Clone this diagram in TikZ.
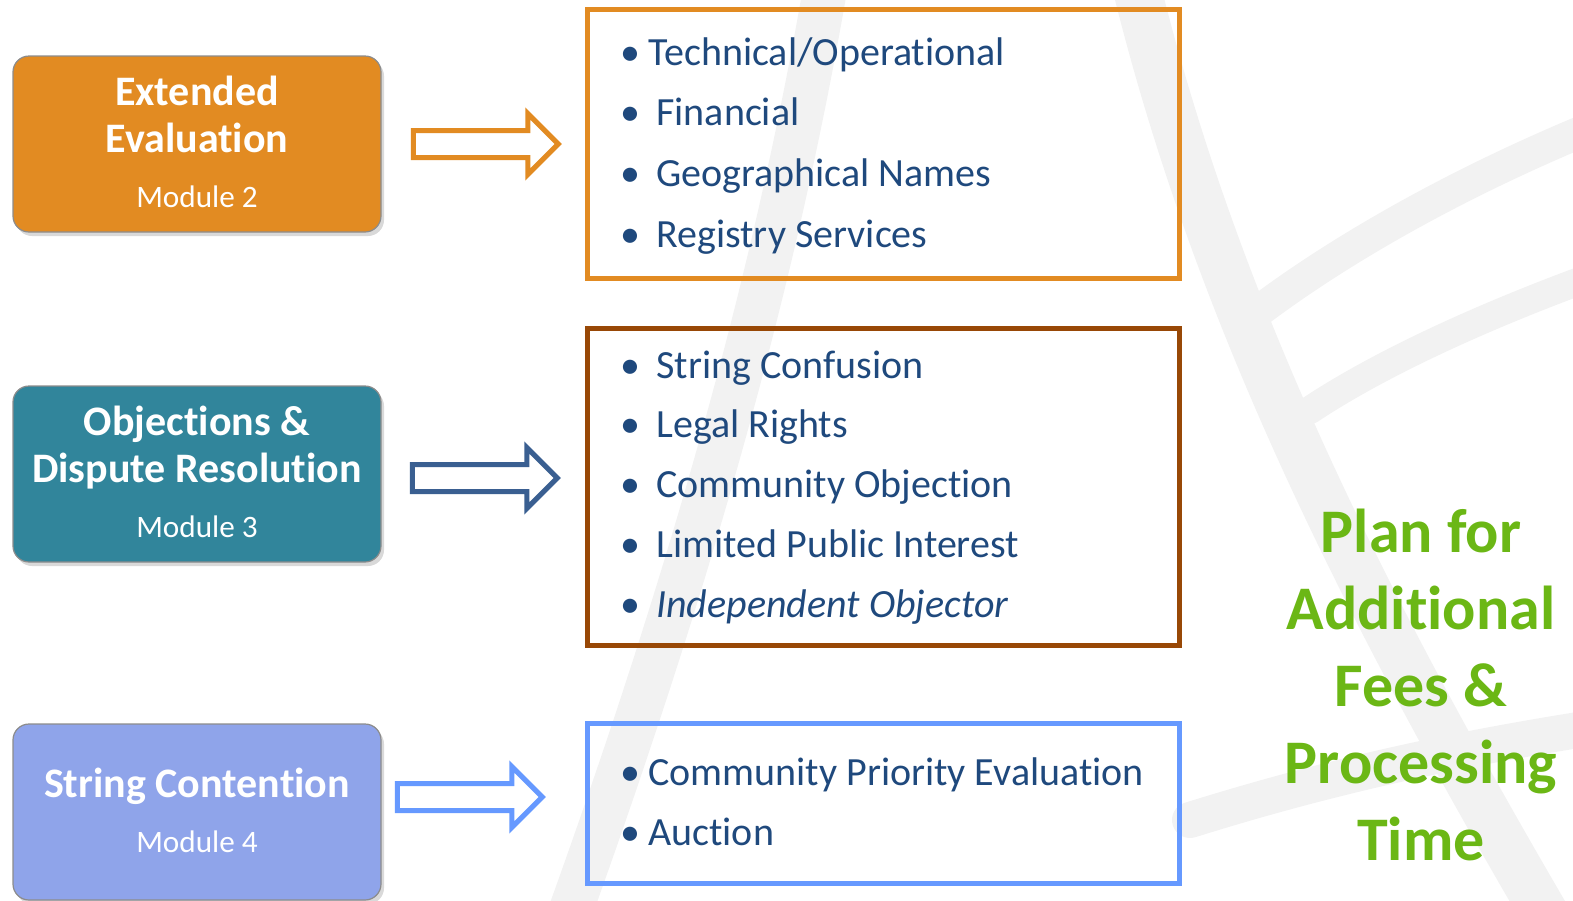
\documentclass[tikz,border=0pt]{standalone}
\usepackage{fontspec}
\setmainfont{Carlito}[Ligatures=NoCommon]
\usetikzlibrary{shapes.arrows,shadows,positioning}

\definecolor{evalorange}{RGB}{226,139,34}
\definecolor{objteal}{RGB}{49,133,155}
\definecolor{contlilac}{RGB}{143,164,234}
\definecolor{objbrown}{RGB}{152,72,6}
\definecolor{contblue}{RGB}{102,153,255}
\definecolor{arrowblue}{RGB}{58,95,145}
\definecolor{itemblue}{RGB}{31,73,125}
\definecolor{plangreen}{RGB}{107,183,21}

\tikzset{
  module/.style={draw=black!45, line width=0.6pt, rounded corners=8pt,
    minimum width=184pt, minimum height=88pt,
    drop shadow={shadow xshift=1.5pt, shadow yshift=-2pt, opacity=0.3}},
  modtitle/.style={anchor=base, inner sep=0pt, text=white,
    font=\bfseries\fontsize{21}{25}\selectfont},
  modsub/.style={anchor=base, inner sep=0pt, text=white,
    font=\fontsize{15.6}{18}\selectfont},
  hollow/.style={single arrow, draw, line width=2.5pt, fill=white,
    inner sep=5.5pt, single arrow head extend=8.5pt,
    single arrow tip angle=90, minimum height=72.5pt},
  listbox/.style={draw, line width=2.5pt, minimum width=296pt, inner sep=0pt},
  item/.style={anchor=base west, inner sep=0pt, text=itemblue,
    font=\fontsize{20}{24}\selectfont},
  plan/.style={anchor=base, inner sep=0pt, text=plangreen,
    font=\bfseries\fontsize{31}{36}\selectfont},
  band/.style={draw=black!5, line width=#1, line cap=round},
}

\begin{document}
\begin{tikzpicture}[x=0.5pt,y=-0.5pt]
\useasboundingbox (0,0) rectangle (1573,900);

% faint watermark behind everything
\draw[band=24pt] (1130,-40) .. controls (1210,300) and (1360,600) .. (1560,940);
\draw[band=16pt] (1610,120) .. controls (1460,180) and (1340,250) .. (1260,310);
\draw[band=14pt] (1610,270) .. controls (1470,320) and (1370,370) .. (1310,410);
\draw[band=18pt] (1190,820) .. controls (1350,770) and (1480,745) .. (1610,725);
\draw[band=22pt] (830,-40) .. controls (790,200) and (720,500) .. (560,940);

% modules on the left
\node[module, fill=evalorange] (ext) at (197,144) {};
\node[modtitle] (extT1) at (197,105) {Extended};
\node[modtitle] (extT2) at (197,152) {Evaluation};
\node[modsub] (extM) at (197,207) {Module 2};

\node[module, fill=objteal] (obj) at (197,474) {};
\node[modtitle] (objT1) at (197,435) {Objections \&};
\node[modtitle] (objT2) at (197,482) {Dispute Resolution};
\node[modsub] (objM) at (197,537) {Module 3};

\node[module, fill=contlilac] (cont) at (197,812) {};
\node[modtitle] (contT) at (197,797) {String Contention};
\node[modsub] (contM) at (197,852) {Module 4};

% arrows
\node[hollow, draw=evalorange] (extA) at (479,144) {};
\node[hollow, draw=arrowblue] (objA) at (478,478) {};
\node[hollow, draw=contblue] (contA) at (463,797) {};

% lists on the right
\node[listbox, draw=evalorange, minimum height=134.5pt] (extL) at (883,144) {};
\node[item] (extI1) at (620,65) {•\hspace{4pt}Technical/Operational};
\foreach \txt [count=\i from 2] in {Financial, Geographical Names, Registry Services}
  \node[item] (extI\i) at (620,{65+60.7*(\i-1)}) {•\hspace{8pt}\txt};

\node[listbox, draw=objbrown, minimum height=158.5pt] (objL) at (883,487) {};
\foreach \txt [count=\i] in {String Confusion, Legal Rights, Community Objection,
    Limited Public Interest, {\itshape Independent Objector}}
  \node[item] (objI\i) at (620,{378+59.8*(\i-1)}) {•\hspace{8pt}\txt};

\node[listbox, draw=contblue, minimum height=80pt] (contL) at (883,803.5) {};
\node[item] (contI1) at (620,785) {•\hspace{4pt}Community Priority Evaluation};
\node[item] (contI2) at (620,845) {•\hspace{4pt}Auction};

% note on the right
\foreach \txt [count=\i] in {Plan for, Additional, Fees \&, Processing, Time}
  \node[plan] (plan\i) at (1421,{552+77*(\i-1)}) {\txt};
\end{tikzpicture}
\end{document}
